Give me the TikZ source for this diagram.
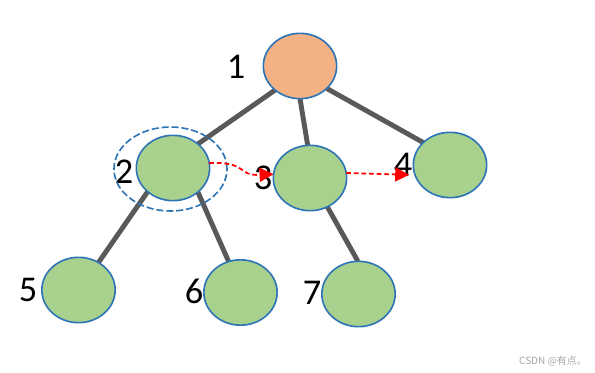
\documentclass[tikz,border=0pt]{standalone}
\usepackage{fontspec}
\setmainfont{Carlito}
\newfontfamily\cjkfont{Noto Sans CJK SC}
\usetikzlibrary{arrows.meta,shapes.geometric,backgrounds}
\definecolor{rootorange}{RGB}{244,177,131}
\definecolor{leafgreen}{RGB}{169,209,142}
\definecolor{rimblue}{RGB}{46,117,182}
\definecolor{edgegray}{RGB}{89,89,89}

\begin{document}
\begin{tikzpicture}[
    x=0.03cm, y=-0.03cm,
    vtx/.style={ellipse, draw=rimblue, line width=1.4pt, fill=leafgreen,
      minimum width=2.2cm, minimum height=1.96cm, inner sep=0pt, outer sep=0pt},
    num/.style={font=\fontsize{31}{36}\selectfont, inner sep=0pt},
    tedge/.style={draw=edgegray, line width=4.2pt},
    visit/.style={draw=red, dashed, dash pattern=on 4pt off 2.5pt, line width=1.5pt,
      -{Triangle[length=12pt,width=12pt]}},
    >=Stealth
  ]
    \useasboundingbox (0,0) rectangle (595,373);

    % tree nodes
    \node[vtx, fill=rootorange] (n1) at (300,66) {};
    \node[vtx] (n2) at (173,168) {};
    \node[vtx] (n3) at (310,178) {};
    \node[vtx] (n4) at (450,165) {};
    \node[vtx] (n5) at (78.5,290) {};
    \node[vtx] (n6) at (240.5,292.5) {};
    \node[vtx] (n7) at (358.5,294) {};

    % numbers
    \node[num] (l1) at (236,67) {1};
    \node[num] (l2) at (124,172) {2};
    \node[num] (l3) at (263,178) {3};
    \node[num] (l4) at (403,165) {4};
    \node[num] (l5) at (28,290) {5};
    \node[num] (l6) at (194,291) {6};
    \node[num] (l7) at (312,293) {7};

    % current node mark
    \node[ellipse, draw=rimblue, line width=1.4pt, dash pattern=on 6pt off 2.5pt,
      minimum width=3.39cm, minimum height=2.52cm, inner sep=0pt] (mark) at (170.5,169) {};

    \begin{pgfonlayer}{background}
      \draw[tedge] (n1.224) -- (n2.44);
      \draw[tedge] (n1.270) -- (n3.94);
      \draw[tedge] (n1.320) -- (n4.140);
      \draw[tedge] (n2.223) -- (n5.54);
      \draw[tedge] (n2.316) -- (n6.111);
      \draw[tedge] (n3.301) -- (n7.91);
    \end{pgfonlayer}

    % visiting order
    \draw[visit] (n2.8) .. controls (250,162) and (236,176) .. (n3.174);
    \draw[visit, shorten >=5pt] (n3.8) -- (n4.196);

    \node[font=\cjkfont\fontsize{8.5}{10}\selectfont, text=black!35] (mark0) at (553,361) {CSDN @有点。};
  \end{tikzpicture}
\end{document}
